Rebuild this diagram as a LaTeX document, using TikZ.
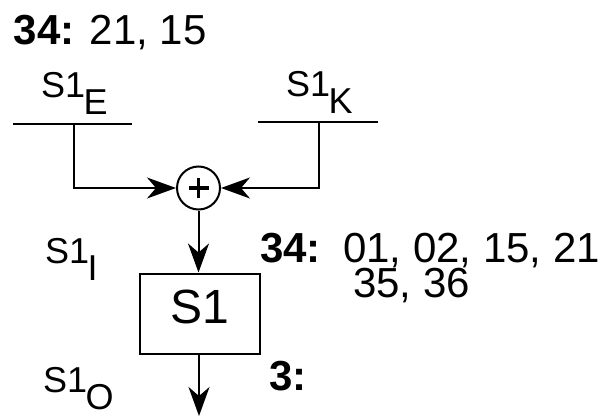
\documentclass[tikz,border=0pt]{standalone}
\usepackage{fontspec}
\setmainfont{Liberation Sans}
\usetikzlibrary{arrows.meta}
\tikzset{
  wire/.style={line width=2pt},
  arr/.style={wire,-{Stealth[length=29pt,width=21pt,inset=9pt]}},
  sig/.style={inner sep=0pt,anchor=base west,font=\fontsize{36}{36}\selectfont},
  num/.style={inner sep=0pt,anchor=base west,font=\fontsize{42}{42}\selectfont},
  sbox/.style={draw,line width=2pt,minimum width=120pt,minimum height=80pt,inner sep=0pt,
    font=\fontsize{48}{48}\selectfont,text height=30pt,text depth=10pt},
  xorc/.style={draw,circle,line width=2pt,minimum size=43pt,inner sep=0pt}
}
\newcommand{\sbs}[1]{\kern-1.5pt\raisebox{-17pt}{#1}}
\begin{document}
\begin{tikzpicture}[x=1pt,y=-1pt]
\useasboundingbox (0,0) rectangle (604,417);
% labels
\node[num] (top) at (13.5,45) {\textbf{34:} 21, 15};
\node[sig] (se) at (41,98) {S1\sbs{E}};
\node[sig] (sk) at (286,97) {S1\sbs{K}};
\node[sig] (si) at (45,263) {S1\sbs{I}};
\node[sig] (so) at (43,392) {S1\sbs{O}};
\node[num] (ka) at (260,262) {\textbf{34:}};
\node[num] (kb) at (343,262) {01, 02, 15, 21};
\node[num] (kc) at (353,297) {35, 36};
\node[num] (kd) at (269,390) {\textbf{3:}};
% underlines
\coordinate (el) at (13,124); \coordinate (er) at (132,124);
\coordinate (kl) at (258,122); \coordinate (kr) at (378,122);
\draw[wire] (el) -- (er);
\draw[wire] (kl) -- (kr);
\coordinate (ev) at (74,124);
\coordinate (kv) at (319,122);
% xor
\node[xorc] (xor) at (198.5,188) {};
\draw[line width=3.5pt] ([xshift=-10pt]xor.center) -- ([xshift=10pt]xor.center);
\draw[line width=3.5pt] ([yshift=-10pt]xor.center) -- ([yshift=10pt]xor.center);
% box
\node[sbox] (s1) at (200,313.5) {S1};
\coordinate (out) at (199,416);
% connectors
\draw[arr] (ev) |- (xor.west);
\draw[arr] (kv) |- (xor.east);
\draw[arr] (xor.south) -- (xor.south |- s1.north);
\draw[arr] (s1.south -| out) -- (out);
\end{tikzpicture}
\end{document}
